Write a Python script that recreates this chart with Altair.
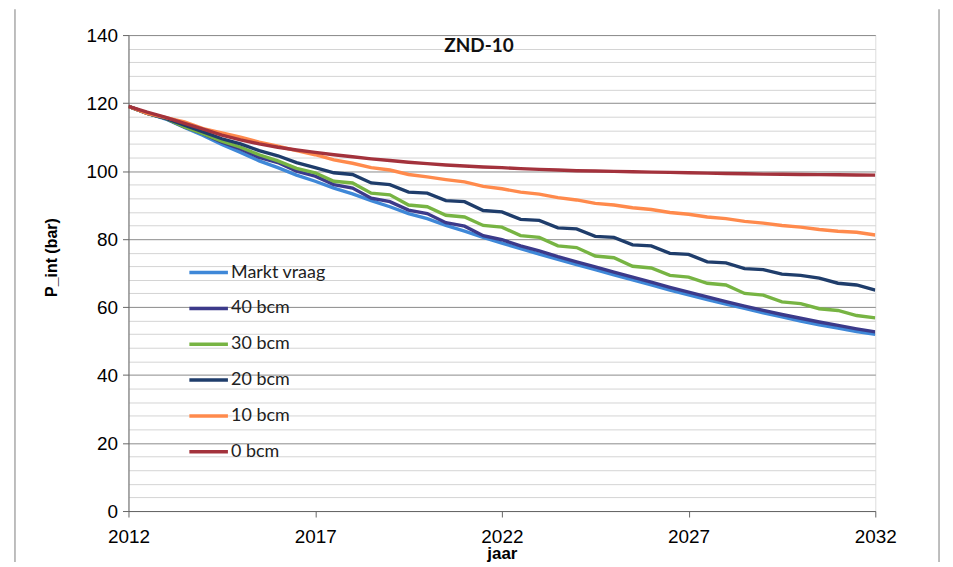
import altair as alt
import pandas as pd

years = [2012 + 0.5 * i for i in range(41)]

markt_vraag = [119, 117, 115.3, 112.8, 110.5, 107.8, 105.5, 103, 101, 98.8, 97, 95, 93.3, 91.3, 89.5, 87.5, 86, 84, 82.3, 80.5,
               78.8, 77.2, 75.6, 74, 72.5, 71, 69.5, 68, 66.5, 65, 63.6, 62.2, 60.9, 59.6, 58.3, 57.1, 55.9, 54.8, 53.8, 52.8, 52]
bcm40 = [119, 117, 115.5, 113, 111, 108.5, 106.5, 104, 102.5, 100, 98.5, 96, 95, 92, 91, 88.5, 87.5, 84.8, 83.8, 81,
         79.8, 78, 76.5, 74.8, 73.3, 71.8, 70.3, 68.8, 67.3, 65.8, 64.4, 63, 61.6, 60.3, 59, 57.8, 56.7, 55.6, 54.6, 53.6, 52.7]
bcm30 = [119, 117, 115.5, 113, 111, 108.8, 107, 104.8, 103, 100.8, 99.5, 97, 96.5, 93.5, 93, 90, 89.5, 87, 86.5, 84,
         83.5, 81, 80.5, 78, 77.5, 75, 74.5, 72, 71.5, 69.3, 68.8, 67, 66.5, 64, 63.5, 61.5, 61, 59.5, 59, 57.5, 56.8]
bcm20 = [119, 117, 115.5, 113.5, 111.5, 109.5, 108, 106, 104.5, 102.5, 101, 99.5, 99, 96.5, 96, 93.8, 93.5, 91.3, 91, 88.4,
         88, 85.8, 85.5, 83.3, 83, 80.8, 80.5, 78.3, 78, 75.8, 75.5, 73.3, 73, 71.3, 71, 69.7, 69.3, 68.5, 67, 66.5, 65]
bcm10 = [119, 117, 115.7, 114.5, 112.5, 111.2, 110, 108.5, 107.3, 106, 104.8, 103.3, 102.3, 101, 100.3, 99, 98.3, 97.5, 96.8, 95.5,
         94.8, 93.8, 93.2, 92.2, 91.5, 90.5, 90, 89.2, 88.7, 87.8, 87.3, 86.5, 86, 85.2, 84.7, 84, 83.5, 82.8, 82.3, 82, 81.2]
bcm0 = [119, 117.3, 115.8, 114, 112.3, 110.6, 109.2, 108, 107, 106.2, 105.5, 104.8, 104.2, 103.6, 103.1, 102.6, 102.2, 101.8, 101.5, 101.2,
        101, 100.7, 100.5, 100.3, 100.1, 100, 99.9, 99.8, 99.7, 99.6, 99.5, 99.4, 99.3, 99.2, 99.1, 99.05, 99, 98.95, 98.9, 98.85, 98.8]

series_names = ["Markt vraag", "40 bcm", "30 bcm", "20 bcm", "10 bcm", "0 bcm"]
series_values = [markt_vraag, bcm40, bcm30, bcm20, bcm10, bcm0]
colors = ["#3f88d8", "#3c3a8a", "#77b443", "#1f3d6b", "#ff8a4c", "#a3323c"]

rows = []
for name, vals in zip(series_names, series_values):
    for yr, v in zip(years, vals):
        rows.append({"jaar": yr, "P": v, "serie": name, "order": series_names.index(name)})
df = pd.DataFrame(rows)

x_vals = list(range(2012, 2033))
y_vals = list(range(0, 141, 4))

FONT = "Lato"

lines = alt.Chart(df).mark_line(strokeWidth=3.4, clip=True).encode(
    x=alt.X("jaar:Q", scale=alt.Scale(domain=[2012, 2032], nice=False, zero=False),
            axis=alt.Axis(values=x_vals, format="d",
                          labelExpr="datum.value % 5 == 2 ? datum.label : ''",
                          gridColor={"condition": {"test": "datum.value % 5 == 2", "value": "#8a8a8a"}, "value": "#d4d4d4"},
                          tickColor={"condition": {"test": "datum.value % 5 == 2", "value": "#666"}, "value": "transparent"},
                          tickSize=6, domainColor="#666", labelFontSize=19, labelPadding=11,
                          title="jaar", titleFontSize=17, titleFontWeight="bold", titlePadding=-1,
                          labelFlush=False, labelOverlap=False)),
    y=alt.Y("P:Q", scale=alt.Scale(domain=[0, 140], nice=False),
            axis=alt.Axis(values=y_vals,
                          labelExpr="datum.value % 20 == 0 ? datum.label : ''",
                          gridColor={"condition": {"test": "datum.value % 20 == 0", "value": "#8a8a8a"}, "value": "#d4d4d4"},
                          tickColor={"condition": {"test": "datum.value % 20 == 0", "value": "#666"}, "value": "transparent"},
                          tickSize=6, domainColor="#666", labelFontSize=19, labelPadding=5,
                          title="P_int (bar)", titleFontSize=16, titleFontWeight="bold",
                          titleX=-77, titleY=223, titleAngle=-90, titleAlign="center", titleBaseline="middle",
                          labelOverlap=False)),
    color=alt.Color("serie:N", scale=alt.Scale(domain=series_names, range=colors),
                    legend=alt.Legend(title=None, orient="none", legendX=59, legendY=217,
                                      symbolType="stroke", symbolSize=1500, symbolStrokeWidth=3.5,
                                      labelFontSize=18, labelFont=FONT, rowPadding=5, labelOffset=1,
                                      labelColor="#222")),
    order=alt.Order("order:Q", sort="descending"),
    detail="serie:N",
)

title = alt.Chart(pd.DataFrame({"t": ["ZND-10"]})).mark_text(
    fontSize=19, fontWeight="bold", font=FONT, color="#111"
).encode(text="t:N", x=alt.value(352), y=alt.value(11))

frame = alt.Chart(pd.DataFrame({"f": [0, 1]})).mark_rule(
    color="#a8a8a8", strokeWidth=1.5, clip=False
).encode(x=alt.X("f:Q", scale=alt.Scale(domain=[0, 1], range=[-114, 814]), axis=None),
         y=alt.value(-26), y2=alt.value(540))

chart = alt.layer(frame, lines, title).resolve_scale(x="independent").properties(
    width=750, height=478,
    autosize=alt.AutoSizeParams(type="none"),
    padding={"left": 121, "top": 26, "right": 70, "bottom": 50},
).configure_view(stroke="#8a8a8a", strokeWidth=1).configure_axis(
    labelFont=FONT, titleFont=FONT, labelColor="#111", titleColor="#111", gridWidth=1
).configure(background="white")

chart.save("out.html", embed_options={"renderer": "svg", "actions": False})
